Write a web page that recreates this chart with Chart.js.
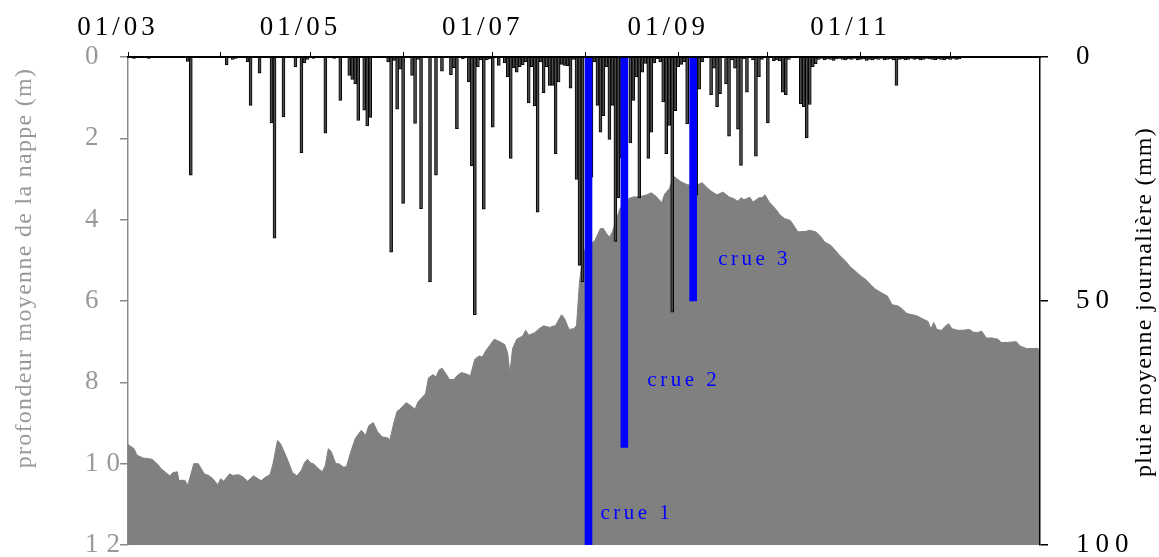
<!DOCTYPE html>
<html>
<head>
<meta charset="utf-8">
<script src="https://cdn.jsdelivr.net/npm/chart.js@4.4.1/dist/chart.umd.min.js"></script>
<style>
  body { margin: 0; background: #fff; }
</style>
</head>
<body>
<canvas id="graph" width="1159" height="557"></canvas>
<script>
// x axis = days counted from 01/03
const monthTicks = [0, 31, 61, 92, 122, 153, 184, 214, 245, 275];
const monthLabels = ['01/03', '', '01/05', '', '01/07', '', '01/09', '', '01/11', ''];

// profondeur moyenne de la nappe (m) : [day, depth]
const depth = [
  [0, 9.53], [2, 9.63], [3, 9.79], [5, 9.86], [8, 9.89], [10, 10.02], [11, 10.12], [14, 10.30],
  [15, 10.22], [16.5, 10.20], [17, 10.41], [19, 10.41], [20, 10.53], [22, 10.0], [23.5, 10.0],
  [25.5, 10.25], [27, 10.29], [28.5, 10.38], [30, 10.52], [31, 10.37], [32, 10.43], [34, 10.25],
  [35, 10.29], [37, 10.27], [38.5, 10.33], [40, 10.43], [42, 10.30], [44.5, 10.42], [46, 10.33],
  [47.5, 10.27], [48.5, 10.0], [50, 9.43], [51, 9.51], [52.5, 9.75], [54, 10.02], [55, 10.22],
  [56.5, 10.30], [58, 10.16], [59, 9.98], [60, 9.89], [61, 9.98], [62, 10.0], [63.5, 10.11],
  [65, 10.20], [66, 10.04], [67, 9.63], [68, 9.71], [69.5, 10.0], [70.5, 10.0], [72, 10.08],
  [73, 10.08], [74.5, 9.71], [76, 9.38], [78, 9.18], [79.5, 9.30], [80.5, 9.07], [82, 8.99],
  [83.5, 9.22], [85, 9.34], [87, 9.37], [87.5, 9.43], [89, 8.97], [90, 8.71], [91, 8.66],
  [93, 8.50], [94.5, 8.57], [96, 8.66], [97, 8.48], [98.5, 8.36], [99.5, 8.28], [100.5, 7.89],
  [102, 7.81], [103, 7.87], [104, 7.70], [105, 7.65], [106.5, 7.81], [107.5, 7.93], [109, 7.93],
  [110, 7.84], [111.5, 7.76], [113, 7.79], [114.5, 7.84], [116, 7.43], [117.5, 7.35], [118.5, 7.38],
  [119.5, 7.24], [121, 7.09], [122.5, 6.94], [124, 6.99], [126, 7.07], [127, 7.29], [127.7, 7.79],
  [128.6, 7.17], [130, 6.94], [132, 6.86], [133, 6.72], [134, 6.84], [136, 6.78], [137.5, 6.68],
  [139, 6.61], [141, 6.65], [143, 6.60], [145, 6.34], [146, 6.43], [147.5, 6.70], [149, 6.68],
  [150, 6.61], [151, 5.53], [152, 4.96], [153, 4.70], [155, 4.57], [156, 4.53], [158, 4.22],
  [159, 4.22], [160, 4.34], [161, 4.43], [162, 4.30], [163.5, 3.96], [164.5, 3.73], [166, 3.60],
  [167.5, 3.48], [169, 3.44], [170.5, 3.44], [172, 3.42], [173.5, 3.39], [175, 3.34], [176.5, 3.42],
  [178.5, 3.58], [179.5, 3.37], [181, 3.24], [182.5, 2.93], [183.5, 2.99], [185, 3.07], [187, 3.14],
  [190, 3.16], [192, 3.09], [193.5, 3.20], [195, 3.30], [197, 3.39], [199, 3.32], [201, 3.44],
  [202.5, 3.48], [204, 3.55], [205, 3.46], [206, 3.51], [208, 3.45], [209, 3.57], [211, 3.46],
  [212, 3.46], [213, 3.39], [214.5, 3.57], [216.5, 3.73], [218, 3.88], [219.5, 3.97], [221.5, 4.02],
  [223, 4.18], [224, 4.30], [226.5, 4.29], [228, 4.26], [230, 4.30], [231.5, 4.40], [233, 4.55],
  [235, 4.63], [236.5, 4.75], [238, 4.88], [240, 5.02], [241.5, 5.16], [243, 5.25], [245, 5.38],
  [247, 5.49], [248.5, 5.61], [250, 5.71], [252.5, 5.82], [254, 5.88], [255.5, 6.09], [257.5, 6.12],
  [259, 6.20], [260.5, 6.31], [262.5, 6.34], [264, 6.37], [265.5, 6.43], [267.5, 6.50], [268.5, 6.68],
  [269.5, 6.53], [270.5, 6.70], [272, 6.72], [273.5, 6.61], [274.5, 6.56], [275.5, 6.68], [277.5, 6.72],
  [279, 6.72], [281.5, 6.70], [282.5, 6.76], [284, 6.78], [285.5, 6.74], [287, 6.91], [289, 6.91],
  [291, 6.94], [292, 7.02], [294, 7.02], [297, 7.00], [298.5, 7.11], [300.5, 7.17], [302.5, 7.17],
  [304, 7.16], [305, 7.21]
];

// pluie moyenne journaliere (mm) : [day, mm]
const rain = [
  [2, 0.3], [7, 0.3], [20, 0.9], [21, 24.2], [33, 1.6], [35, 0.5], [36, 0.3], [40, 1.0], [41, 9.9],
  [44, 3.3], [48, 13.5], [49, 37.1], [52, 12.3], [56, 2.0], [58, 19.6], [59, 1.2], [60, 0.5],
  [62, 0.3], [66, 15.6], [69, 0.3], [71, 8.9], [74, 3.8], [75, 4.6], [76, 5.5], [77, 13.0],
  [79, 10.9], [80, 14.1], [81, 12.4], [87, 1.0], [88, 40.0], [89, 0.7], [90, 10.7], [91, 2.5],
  [92, 30.0], [95, 3.8], [96, 13.6], [97, 0.5], [98, 31.1], [101, 46.1], [103, 24.2], [105, 2.9],
  [108, 3.6], [109, 2.2], [110, 14.7], [112, 0.4], [114, 5.1], [115, 22.3], [116, 52.8], [117, 2.0],
  [118, 0.6], [119, 31.2], [120, 0.6], [121, 0.4], [122, 14.4], [124, 1.7], [126, 1.2], [127, 4.1],
  [128, 20.8], [129, 2.2], [130, 3.1], [131, 2.0], [132, 1.6], [133, 1.0], [134, 9.4], [135, 2.0],
  [136, 10.0], [137, 31.8], [138, 1.0], [139, 7.3], [140, 2.0], [141, 5.8], [142, 5.8], [143, 19.8],
  [144, 5.1], [145, 1.5], [146, 1.7], [147, 1.8], [148, 6.4], [149, 0.5], [150, 25.1], [151, 42.7],
  [152, 46.1], [155, 24.6], [156, 1.0], [157, 9.9], [158, 15.4], [159, 12.0], [160, 2.0], [161, 16.9],
  [162, 9.9], [163, 37.8], [164, 28.9], [165, 20.7], [168, 17.6], [169, 8.9], [170, 4.1], [171, 28.9],
  [172, 3.1], [173, 1.3], [174, 20.8], [175, 15.4], [176, 1.2], [177, 0.4], [178, 1.0], [179, 9.2],
  [180, 19.8], [181, 14.0], [182, 52.3], [183, 11.0], [184, 2.0], [185, 1.5], [186, 1.0], [187, 13.7],
  [190, 28.3], [191, 6.6], [192, 1.0], [195, 7.7], [196, 2.3], [197, 10.2], [198, 7.5], [200, 5.5],
  [201, 16.2], [202, 0.6], [203, 2.3], [204, 14.8], [205, 22.2], [206, 0.4], [207, 7.2], [209, 0.6],
  [210, 20.3], [211, 4.1], [212, 0.5], [214, 13.5], [216, 0.8], [217, 0.6], [218, 0.8], [219, 7.2],
  [220, 7.7], [221, 0.5], [225, 9.6], [226, 10.2], [227, 16.6], [228, 9.7], [229, 2.0], [230, 1.4],
  [231, 0.5], [232, 0.3], [233, 0.6], [234, 0.4], [235, 0.5], [236, 0.7], [237, 0.4], [238, 0.3],
  [239, 0.5], [240, 0.6], [241, 0.4], [242, 0.5], [243, 0.3], [244, 0.6], [245, 0.5], [246, 0.4],
  [247, 0.7], [248, 0.5], [249, 0.6], [250, 0.4], [251, 0.5], [252, 0.3], [253, 0.6], [254, 0.5],
  [255, 0.4], [256, 0.6], [257, 5.8], [258, 0.5], [259, 0.4], [260, 0.6], [261, 0.5], [262, 0.3],
  [263, 0.5], [264, 0.4], [265, 0.6], [266, 0.5], [267, 0.3], [268, 0.4], [269, 0.5], [270, 0.6],
  [271, 0.4], [272, 0.5], [273, 0.6], [274, 0.4], [275, 0.5], [276, 0.3], [277, 0.5], [278, 0.4]
];

// crues
const crueNames = ['crue 1', 'crue 2', 'crue 3'];
const crueDays = [154, 166, 189];
const crueMm = [100, 80, 50];

const leftTitle = 'profondeur moyenne de la nappe (m)';
const rightTitle = 'pluie moyenne journalière (mm)';

const serif = '"Liberation Serif", "Times New Roman", serif';
const leftGrey = '#999999';

// letter spacing for the tick labels of each axis
const labelSpacing = { x: '4px', y: '8px', y2: '6px' };
const spacingPlugin = {
  id: 'spacing',
  beforeDraw(chart) {
    Object.keys(labelSpacing).forEach(id => {
      const scale = chart.scales[id];
      if (!scale || scale._spaced) return;
      const orig = scale.drawLabels.bind(scale);
      scale.drawLabels = function (area) {
        chart.ctx.save();
        chart.ctx.letterSpacing = labelSpacing[id];
        orig(area);
        chart.ctx.restore();
      };
      scale._spaced = true;
    });
  }
};

// offsets of the crue labels from their bar (px) and height (depth, m)
const crueLabelPos = [{ dx: 12, depth: 11.36 }, { dx: 23, depth: 8.09 }, { dx: 25, depth: 5.11 }];
const crueLabelPlugin = {
  id: 'crueLabels',
  afterDatasetsDraw(chart) {
    const ctx = chart.ctx;
    const xs = chart.scales.x;
    const ys = chart.scales.y;
    ctx.save();
    ctx.font = '21px ' + serif;
    ctx.letterSpacing = '3.5px';
    ctx.fillStyle = '#0000ff';
    ctx.textBaseline = 'alphabetic';
    ctx.textAlign = 'left';
    crueNames.forEach((name, i) => {
      const p = crueLabelPos[i];
      ctx.fillText(name, xs.getPixelForValue(crueDays[i]) + p.dx, ys.getPixelForValue(p.depth));
    });
    ctx.restore();
  }
};

const titlePlugin = {
  id: 'axisTitles',
  afterDraw(chart) {
    const ctx = chart.ctx;
    ctx.save();
    ctx.font = '24px ' + serif;
    ctx.letterSpacing = '1.3px';
    ctx.textAlign = 'center';
    ctx.textBaseline = 'middle';

    ctx.save();
    ctx.fillStyle = leftGrey;
    ctx.translate(25, 268);
    ctx.rotate(-Math.PI / 2);
    ctx.fillText(leftTitle, 0, 0);
    ctx.restore();

    ctx.save();
    ctx.fillStyle = '#000';
    ctx.translate(1145, 302);
    ctx.rotate(-Math.PI / 2);
    ctx.fillText(rightTitle, 0, 0);
    ctx.restore();

    ctx.restore();
  }
};

new Chart(document.getElementById('graph'), {
  type: 'line',
  data: {
    datasets: [
      {
        type: 'bar',
        label: 'crues',
        data: crueDays.map((d, i) => ({ x: d, y: crueMm[i] })),
        yAxisID: 'y2',
        backgroundColor: '#0000ff',
        borderWidth: 0,
        barThickness: 7,
        grouped: false,
        order: 1
      },
      {
        type: 'bar',
        label: 'pluie',
        data: rain.map(r => ({ x: r[0], y: r[1] })),
        yAxisID: 'y2',
        backgroundColor: '#4a4a4a',
        borderColor: '#000000',
        borderWidth: 1,
        barThickness: 3,
        grouped: false,
        order: 2
      },
      {
        type: 'line',
        label: 'nappe',
        data: depth.map(p => ({ x: p[0], y: p[1] })),
        yAxisID: 'y',
        borderColor: '#808080',
        backgroundColor: '#808080',
        borderWidth: 1,
        pointRadius: 0,
        tension: 0,
        fill: { value: 12 },
        order: 3
      }
    ]
  },
  options: {
    responsive: false,
    animation: false,
    devicePixelRatio: 1,
    layout: { padding: { left: 85, right: 0, top: 0, bottom: 12 } },
    plugins: {
      legend: { display: false },
      tooltip: { enabled: false }
    },
    scales: {
      x: {
        type: 'linear',
        position: 'top',
        min: 0,
        max: 305,
        offset: false,
        afterBuildTicks: s => { s.ticks = monthTicks.map(v => ({ value: v })); },
        afterFit: s => { s.height = 57; s.paddingLeft = 0; s.paddingRight = 0; },
        grid: { drawOnChartArea: false, offset: false, tickLength: 5, color: '#000', lineWidth: 1 },
        border: { color: '#000', width: 2, z: 1 },
        ticks: {
          autoSkip: false,
          maxRotation: 0,
          minRotation: 0,
          padding: 8,
          labelOffset: -10,
          color: '#000',
          font: { family: serif, size: 27 },
          callback: (v, i) => monthLabels[i]
        }
      },
      y: {
        position: 'left',
        min: 0,
        max: 12,
        reverse: true,
        afterFit: s => { s.width = 43; s.paddingTop = 0; s.paddingBottom = 0; },
        grid: { drawOnChartArea: false, tickLength: 8, color: '#8a8a8a', lineWidth: 1.5 },
        border: { color: '#8a8a8a', width: 1.5 },
        ticks: {
          stepSize: 2,
          crossAlign: 'far',
          color: leftGrey,
          font: { family: serif, size: 27 }
        }
      },
      y2: {
        position: 'right',
        min: 0,
        max: 100,
        reverse: true,
        afterFit: s => { s.width = 119; s.paddingTop = 0; s.paddingBottom = 0; },
        grid: { drawOnChartArea: false, tickLength: 8, color: '#000', lineWidth: 1.5 },
        border: { color: '#000', width: 1.5, z: 1 },
        ticks: {
          stepSize: 50,
          padding: 28,
          color: '#000',
          font: { family: serif, size: 27 }
        }
      }
    }
  },
  plugins: [spacingPlugin, crueLabelPlugin, titlePlugin]
});
</script>
</body>
</html>
